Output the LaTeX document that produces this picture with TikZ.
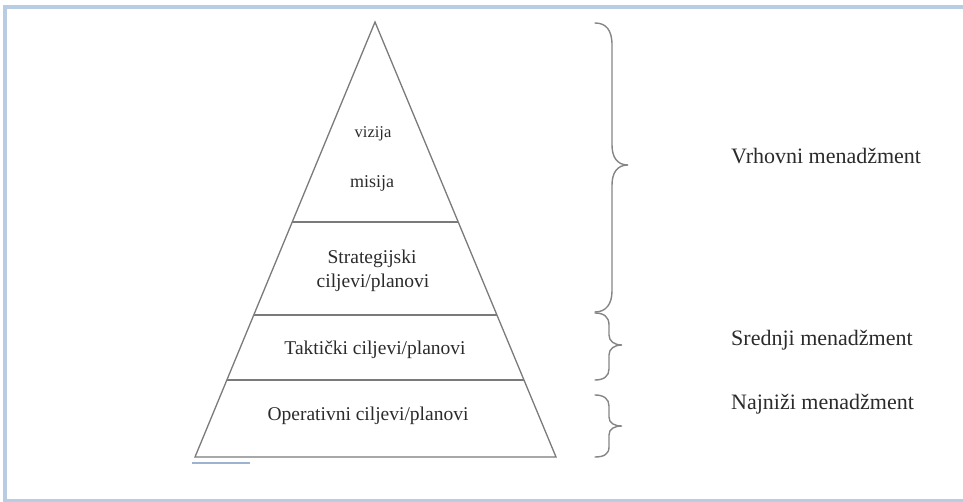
\documentclass[tikz,border=0pt]{standalone}
\usepackage{fontspec}
\setmainfont{Liberation Serif}
\usetikzlibrary{calc}
\definecolor{linegray}{HTML}{7A7A7A}
\definecolor{bracegray}{HTML}{858585}
\definecolor{txt}{HTML}{2B2B2B}
\definecolor{framecol}{HTML}{B8CCE4}
\definecolor{ulcol}{HTML}{9DB3D0}
\begin{document}
\begin{tikzpicture}[x=1pt,y=-1pt,
  pyr/.style={draw=linegray, line width=1.3pt, line join=miter},
  sepline/.style={draw=linegray, line width=1.4pt},
  bracepath/.style={draw=bracegray, line width=1.4pt, line cap=round},
  lbl/.style={text=txt, font=\fontsize{19.5}{22}\selectfont, inner sep=0pt, anchor=base},
  rlbl/.style={text=txt, font=\fontsize{22}{25}\selectfont, inner sep=0pt, anchor=base west},
  framebar/.style={draw=framecol, line width=4pt}]
\useasboundingbox (0,0) rectangle (963,502);
% frame
\draw[framebar] (970,7) -- (5,7) -- (5,500.5) -- (970,500.5);
% pyramid
\coordinate (apex) at (375,22);
\coordinate (bl) at (195,457);
\coordinate (br) at (556,457);
\draw[pyr] (apex) -- (bl) -- (br) -- cycle;
\coordinate (l1) at ($(apex)!0.4598!(bl)$);
\coordinate (r1) at ($(apex)!0.4598!(br)$);
\coordinate (l2) at ($(apex)!0.6736!(bl)$);
\coordinate (r2) at ($(apex)!0.6736!(br)$);
\coordinate (l3) at ($(apex)!0.8230!(bl)$);
\coordinate (r3) at ($(apex)!0.8230!(br)$);
\draw[sepline] (l1) -- (r1);
\draw[sepline] (l2) -- (r2);
\draw[sepline] (l3) -- (r3);
% small underline
\coordinate (u1) at (192,463);
\coordinate (u2) at (250,463);
\draw[draw=ulcol, line width=1.2pt] (u1) -- (u2);
% pyramid texts
\node[lbl, font=\fontsize{16.5}{20}\selectfont] (viz) at (373,138) {vizija};
\node[lbl, font=\fontsize{18}{22}\selectfont] (mis) at (372,188) {misija};
\node[lbl] (str1) at (372,264) {Strategijski};
\node[lbl] (str2) at (373,288) {ciljevi/planovi};
\node[lbl] (tak) at (375,354) {Taktički ciljevi/planovi};
\node[lbl] (ope) at (368,420) {Operativni ciljevi/planovi};
% braces
\draw[bracepath] (595,23) .. controls (606,23) and (612,30) .. (612,45) -- (612,145)
  .. controls (612,157) and (617,165) .. (628,165)
  .. controls (617,165) and (612,173) .. (612,185) -- (612,291)
  .. controls (612,304) and (606,312) .. (595,312);
\draw[bracepath] (595,313) .. controls (604,313) and (609,317) .. (609,325) -- (609,335)
  .. controls (609,341) and (614,345) .. (622,345)
  .. controls (614,345) and (609,349) .. (609,355) -- (609,369)
  .. controls (609,376) and (604,380) .. (595,380);
\draw[bracepath] (595,395) .. controls (604,395) and (609,399) .. (609,406) -- (609,417)
  .. controls (609,423) and (614,426) .. (622,426)
  .. controls (614,426) and (609,429) .. (609,435) -- (609,447)
  .. controls (609,454) and (604,457) .. (595,457);
% right labels
\node[rlbl] (vrh) at (731,164) {Vrhovni menadžment};
\node[rlbl] (sre) at (731,345) {Srednji menadžment};
\node[rlbl] (naj) at (731,409) {Najniži menadžment};
\end{tikzpicture}
\end{document}
